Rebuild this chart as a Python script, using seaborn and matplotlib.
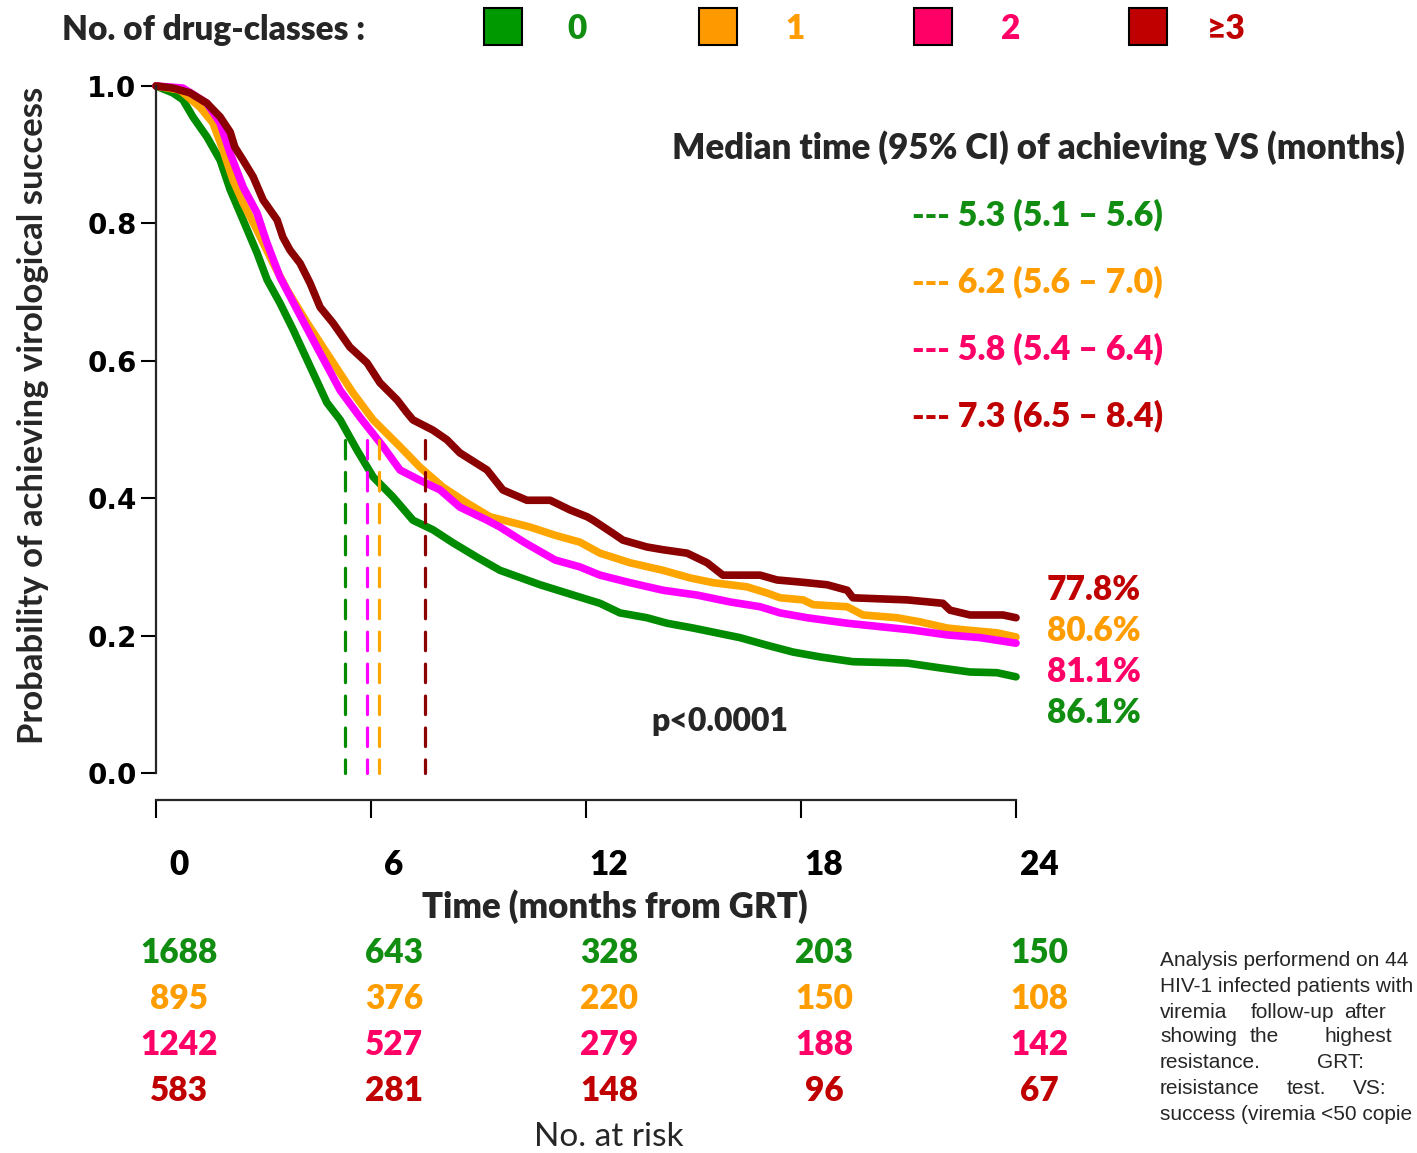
import matplotlib
matplotlib.use("Agg")
import matplotlib.pyplot as plt
import matplotlib.transforms as mtransforms
from matplotlib.patches import Rectangle
import seaborn as sns

# --- data ---
groups = ["0", "1", "2", "\u22653"]

t_0 = [0, 0.47, 0.75, 1.03, 1.42, 1.79, 2.07, 2.43, 2.82, 3.10, 3.46, 3.83, 4.22, 4.77,
       5.14, 5.61, 6.06, 6.61, 7.17, 7.73, 8.29, 8.96, 9.60, 10.72, 11.83, 12.39, 12.95,
       13.70, 14.26, 14.99, 15.55, 16.30, 17.05, 17.78, 18.53, 19.45, 20.96, 21.88, 22.72,
       23.47, 24.0]
s_0 = [1.0, 0.990, 0.980, 0.955, 0.926, 0.892, 0.849, 0.805, 0.757, 0.718, 0.684, 0.645,
       0.601, 0.539, 0.514, 0.470, 0.431, 0.402, 0.368, 0.354, 0.335, 0.314, 0.295, 0.274,
       0.256, 0.247, 0.233, 0.226, 0.218, 0.211, 0.205, 0.197, 0.186, 0.176, 0.169, 0.162,
       0.160, 0.153, 0.147, 0.146, 0.140]

t_1 = [0, 0.67, 1.23, 1.59, 1.87, 2.15, 2.43, 2.82, 3.27, 3.66, 4.22, 4.77, 5.50, 6.06,
       6.81, 7.37, 8.01, 8.68, 9.32, 10.44, 11.14, 11.83, 12.39, 13.23, 14.15, 14.90, 15.55,
       16.49, 17.05, 17.42, 18.06, 18.34, 19.29, 19.73, 20.68, 21.32, 22.08, 22.63, 23.47, 24.0]
s_1 = [1.0, 0.994, 0.969, 0.946, 0.907, 0.863, 0.830, 0.790, 0.742, 0.703, 0.655, 0.611,
       0.553, 0.514, 0.475, 0.445, 0.416, 0.393, 0.373, 0.358, 0.346, 0.336, 0.320, 0.306,
       0.295, 0.284, 0.277, 0.271, 0.262, 0.255, 0.252, 0.245, 0.242, 0.230, 0.226, 0.220,
       0.211, 0.208, 0.204, 0.198]

t_2 = [0, 0.75, 1.42, 1.79, 2.07, 2.43, 2.82, 3.10, 3.46, 3.94, 4.49, 5.14, 5.69, 6.34,
       6.81, 7.37, 7.93, 8.48, 9.24, 9.60, 10.30, 11.14, 11.83, 12.39, 13.23, 14.15, 15.10,
       16.02, 16.86, 17.42, 18.17, 19.29, 20.21, 21.13, 22.08, 23.00, 24.0]
s_2 = [1.0, 0.997, 0.975, 0.946, 0.902, 0.853, 0.815, 0.771, 0.722, 0.674, 0.620, 0.557,
       0.518, 0.475, 0.441, 0.426, 0.412, 0.387, 0.368, 0.358, 0.335, 0.310, 0.300, 0.288,
       0.277, 0.266, 0.259, 0.249, 0.242, 0.233, 0.226, 0.218, 0.213, 0.208, 0.201, 0.197,
       0.189]

t_3 = [0, 0.47, 0.95, 1.42, 1.79, 2.07, 2.20, 2.43, 2.71, 2.99, 3.38, 3.54, 3.74, 4.02,
       4.30, 4.58, 4.94, 5.41, 5.89, 6.25, 6.73, 7.01, 7.17, 7.73, 8.12, 8.48, 9.24, 9.68,
       10.35, 11.00, 11.55, 12.03, 12.20, 12.75, 13.03, 13.70, 14.15, 14.82, 15.38, 15.82,
       16.86, 17.33, 17.97, 18.73, 19.29, 19.45, 20.96, 21.96, 22.16, 22.72, 23.64, 24.0]
s_3 = [1.0, 0.997, 0.990, 0.975, 0.955, 0.933, 0.911, 0.892, 0.868, 0.834, 0.805, 0.780,
       0.761, 0.742, 0.713, 0.678, 0.655, 0.620, 0.597, 0.568, 0.543, 0.524, 0.514, 0.499,
       0.485, 0.466, 0.441, 0.412, 0.397, 0.397, 0.383, 0.373, 0.368, 0.349, 0.339, 0.329,
       0.325, 0.320, 0.306, 0.288, 0.288, 0.281, 0.278, 0.274, 0.266, 0.255, 0.252, 0.247,
       0.237, 0.230, 0.230, 0.226]

times = [t_0, t_1, t_2, t_3]
surv = [s_0, s_1, s_2, s_3]

median_x = [5.27, 6.22, 5.89, 7.5]      # where the dashed lines stand
median_top = 0.485
median_text = ["--- 5.3 (5.1 \u2013 5.6)", "--- 6.2 (5.6 \u2013 7.0)",
               "--- 5.8 (5.4 \u2013 6.4)", "--- 7.3 (6.5 \u2013 8.4)"]
pct_text = ["86.1%", "80.6%", "81.1%", "77.8%"]

risk_times = [0, 6, 12, 18, 24]
at_risk = [[1688, 643, 328, 203, 150],
           [895, 376, 220, 150, 108],
           [1242, 527, 279, 188, 142],
           [583, 281, 148, 96, 67]]

line_colors = ["#008B00", "#FFA500", "#FF00FF", "#8B0000"]
box_colors = ["#009900", "#FF9900", "#FF0066", "#C00000"]
text_colors = ["#118E11", "#FF9D00", "#FF0066", "#C00000"]

# --- figure ---
sns.set_style("ticks")
plt.rcParams["font.family"] = ["Lato", "DejaVu Sans"]
BOLD = "heavy"

W, H = 1417, 1153
fig = plt.figure(figsize=(W / 100, H / 100), dpi=100)


def fx(p):
    return p / W


def fy(p):
    return 1 - p / H


ax = fig.add_axes([fx(156), fy(773), fx(1016) - fx(156), fy(86) - fy(773)])

for i in [0, 1, 2, 3]:
    sns.lineplot(x=times[i], y=surv[i], color=line_colors[i], lw=5.5, ax=ax,
                 estimator=None, sort=False, clip_on=False)

for i in range(4):
    ax.plot([median_x[i], median_x[i]], [median_top, 0], color=line_colors[i],
            lw=2.3, linestyle=(0, (5.8, 4.2)), dash_capstyle="round", clip_on=False)

ax.set_xlim(0, 24)
ax.set_ylim(0, 1)
ax.set_xlabel("")
ax.set_ylabel("")
sns.despine(ax=ax)
ax.spines["bottom"].set_position(("outward", 19.5))
ax.spines["left"].set_linewidth(1.6)
ax.spines["bottom"].set_linewidth(1.6)

ax.set_yticks([0, 0.2, 0.4, 0.6, 0.8, 1.0])
ax.set_yticklabels(["0.0", "0.2", "0.4", "0.6", "0.8", "1.0"],
                   fontfamily="DejaVu Sans", fontweight="bold", fontsize=20)
ax.tick_params(axis="y", direction="out", length=11, width=1.5, pad=3, colors="black")

ax.set_xticks(risk_times)
ax.set_xticklabels([str(t) for t in risk_times], fontweight=BOLD, fontsize=24)
ax.tick_params(axis="x", direction="out", length=13, width=1.5, pad=22, colors="black")
shift = mtransforms.ScaledTranslation(23 / 100, 0, fig.dpi_scale_trans)
for lab in ax.get_xticklabels():
    lab.set_transform(lab.get_transform() + shift)

# axis titles
fig.text(fx(615), fy(907), "Time (months from GRT)", ha="center", va="center",
         fontsize=25, fontweight=BOLD)
fig.text(fx(33), fy(415), "Probability of achieving virological success", ha="center",
         va="center", rotation=90, fontsize=25, fontweight="bold")

# legend row
fig.text(fx(62), fy(30), "No. of drug-classes :", ha="left", va="center",
         fontsize=24, fontweight=BOLD)
box_x = [484, 699, 914, 1129]
lab_x = [577, 795, 1011, 1226]
for i in range(4):
    fig.add_artist(Rectangle((fx(box_x[i]), fy(45)), fx(38), fy(8) - fy(45),
                             transform=fig.transFigure, facecolor=box_colors[i],
                             edgecolor="black", lw=1.5))
    fig.text(fx(lab_x[i]), fy(29), groups[i], ha="center", va="center", fontsize=24,
             fontweight=BOLD, color=text_colors[i])

# medians
fig.text(fx(1038), fy(148), "Median time (95% CI) of achieving VS (months)", ha="center",
         va="center", fontsize=25, fontweight=BOLD)
med_y = [215, 282, 349, 416]
for k in range(4):
    fig.text(fx(912), fy(med_y[k]), median_text[k], ha="left", va="center", fontsize=24.5,
             fontweight=BOLD, color=text_colors[k])

# percentages at 24 months
pct_y = [713, 631, 672, 590]
for i in range(4):
    fig.text(fx(1094), fy(pct_y[i]), pct_text[i], ha="center", va="center", fontsize=24,
             fontweight=BOLD, color=text_colors[i])

fig.text(fx(720), fy(722), "p<0.0001", ha="center", va="center", fontsize=23,
         fontweight=BOLD)

# numbers at risk
trans = mtransforms.blended_transform_factory(ax.transData, fig.transFigure) + shift
row_y = [953, 999, 1045, 1091]
for i in range(4):
    for j, t in enumerate(risk_times):
        ax.text(t, fy(row_y[i]), str(at_risk[i][j]), transform=trans, ha="center",
                va="center", fontsize=24, fontweight=BOLD, color=text_colors[i],
                clip_on=False)
fig.text(fx(609), fy(1137), "No. at risk", ha="center", va="center", fontsize=24)

# side note (justified, cut at the right edge like the source)
note = [
    [(1160, "Analysis performend on 44")],
    [(1160, "HIV-1 infected patients with")],
    [(1160, "viremia"), (1251, "follow-up"), (1344, "after")],
    [(1160, "showing"), (1250, "the"), (1324, "highest")],
    [(1160, "resistance."), (1317, "GRT:")],
    [(1160, "reisistance"), (1287, "test."), (1353, "VS:")],
    [(1160, "success (viremia <50 copie")],
]
note_y = [961, 986, 1012, 1037, 1063, 1088, 1114]
for k, words in enumerate(note):
    for xp, w in words:
        fig.text(fx(xp), fy(note_y[k]), w, ha="left", va="center", fontsize=15,
                 fontfamily="Liberation Sans")

fig.savefig("out.png", dpi=100)
